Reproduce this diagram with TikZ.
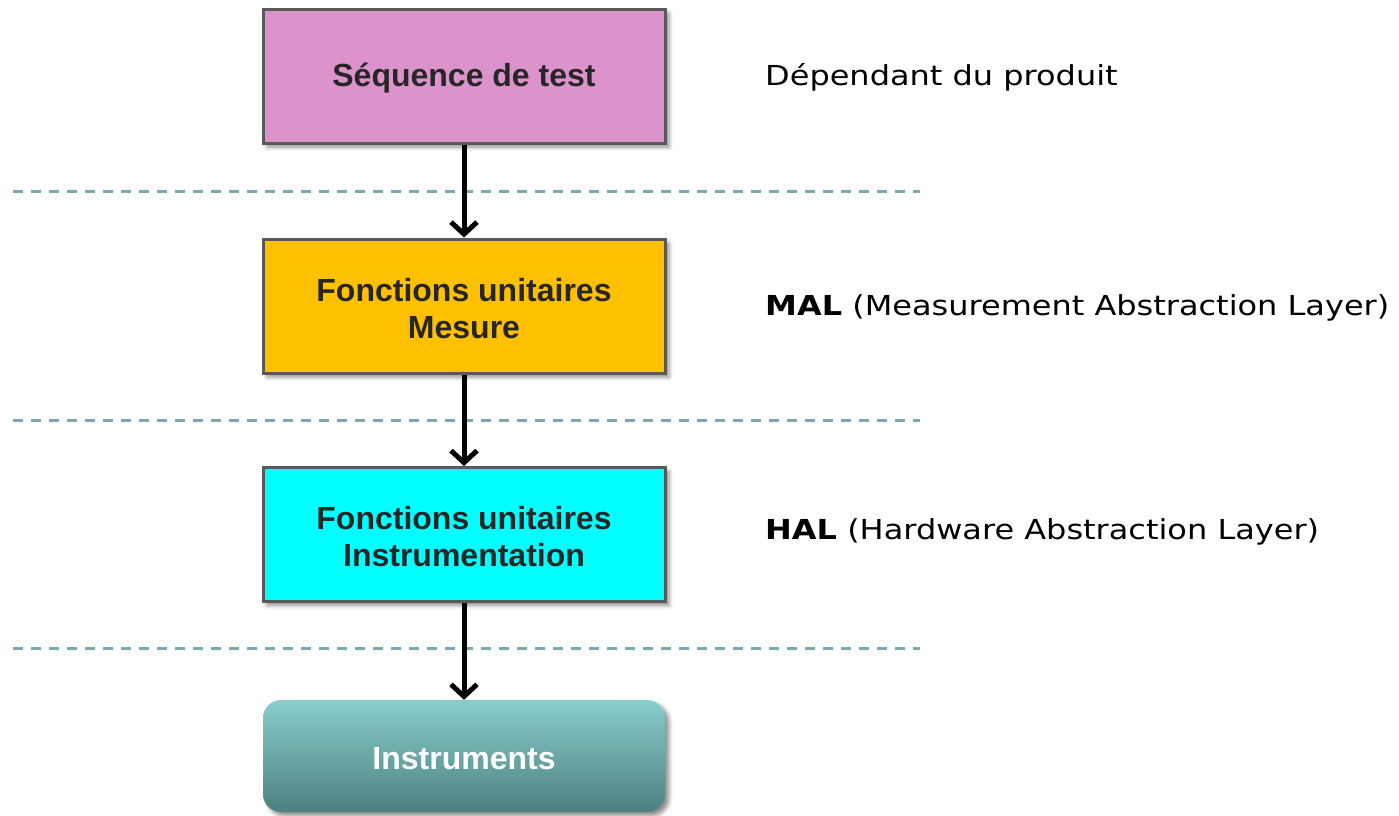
\documentclass[tikz,border=0pt]{standalone}
\usepackage{fontspec}
\setmainfont{Liberation Sans}
\newfontfamily\labelfont[FakeStretch=1.163]{DejaVu Sans}
\usetikzlibrary{arrows.meta,shadows.blur}
\definecolor{boxborder}{HTML}{595959}
\definecolor{boxtext}{HTML}{262626}
\definecolor{seqfill}{HTML}{DC93CC}
\definecolor{malfill}{HTML}{FFC000}
\definecolor{halfill}{HTML}{00FFFF}
\definecolor{insttop}{HTML}{8ACECE}
\definecolor{instbot}{HTML}{4D8080}
\definecolor{sepline}{HTML}{7BA8B1}
% lower a line of box text without changing its measured size
\newcommand\dropline[2][2.5pt]{\raisebox{-#1}[\height][\depth]{#2}}
\tikzset{
  layerbox/.style={draw=boxborder, line width=3pt, minimum width=402pt,
    minimum height=134pt, align=center, text=boxtext,
    font=\fontsize{32}{37}\selectfont\bfseries,
    blur shadow={shadow xshift=4pt, shadow yshift=-4pt,
      shadow blur radius=4pt, shadow opacity=45}},
  instbox/.style={rounded corners=18pt, minimum width=402pt,
    minimum height=112pt, align=center, text=white,
    top color=insttop, bottom color=instbot,
    font=\fontsize{32}{37}\selectfont\bfseries,
    blur shadow={shadow xshift=4pt, shadow yshift=-4pt,
      shadow blur radius=4pt, shadow opacity=45}},
  sidenote/.style={anchor=base west, inner sep=0pt,
    font=\labelfont\fontsize{27.5}{32}\selectfont},
  separator/.style={sepline, line width=3pt, dash pattern=on 10pt off 8pt},
  flow/.style={line width=5pt, black,
    -{Straight Barb[length=12pt,width=26pt,line width=5pt]}}
}
\begin{document}
\begin{tikzpicture}[x=1pt,y=-1pt]
  \useasboundingbox (0,0) rectangle (1399,815);

  % layer separators
  \draw[separator] (13,191) -- (920,191);
  \draw[separator] (13,420) -- (920,420);
  \draw[separator] (13,648) -- (920,648);

  % layers
  \node[layerbox, fill=seqfill] (seq) at (464,76) {\dropline{Séquence de test}};
  \node[layerbox, fill=malfill] (mal) at (464,306) {\dropline{Fonctions unitaires}\\\dropline{Mesure}};
  \node[layerbox, fill=halfill] (hal) at (464,534.5) {\dropline{Fonctions unitaires}\\\dropline{Instrumentation}};
  \node[instbox] (inst) at (464,756) {\dropline[3pt]{Instruments}};

  % calls between layers
  \draw[flow] (seq.south) -- (mal.north);
  \draw[flow] (mal.south) -- (hal.north);
  \draw[flow] (hal.south) -- (inst.north);

  % layer descriptions
  \node[sidenote] (nseq) at (765,85) {Dépendant du produit};
  \node[sidenote] (nmal) at (765,315) {\textbf{MAL} (Measurement Abstraction Layer)};
  \node[sidenote] (nhal) at (765,539) {\textbf{HAL} (Hardware Abstraction Layer)};
\end{tikzpicture}
\end{document}
